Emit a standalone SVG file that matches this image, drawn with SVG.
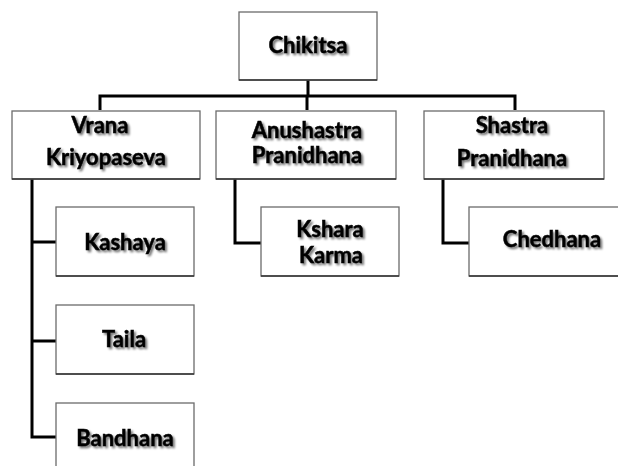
<svg xmlns="http://www.w3.org/2000/svg" width="618" height="466" viewBox="0 0 618 466">
<defs>
<filter id="sh" x="-20%" y="-40%" width="140%" height="180%">
<feGaussianBlur in="SourceAlpha" stdDeviation="1.3"/>
<feOffset dx="1.5" dy="2" result="b"/>
<feComponentTransfer><feFuncA type="linear" slope="0.55"/></feComponentTransfer>
<feMerge><feMergeNode/><feMergeNode in="SourceGraphic"/></feMerge>
</filter>
</defs>
<style>
.box{fill:#ffffff;stroke:#6b6b6b;stroke-width:1.3}
.bs{stroke:#333;stroke-width:1.6}
.t{font-family:Lato,"Liberation Sans",sans-serif;font-weight:bold;font-size:22px;fill:#000;stroke:#000;stroke-width:0.5;text-anchor:middle;filter:url(#sh)}
.c{fill:none;stroke:#000;stroke-width:3}
</style>
<rect width="618" height="466" fill="#fff"/>
<g id="connectors">
<path class="c" d="M308 80V96M100 110V96H515V110M307 96V110"/>
<path class="c" d="M32 179V437H56M32 242H56M32 341H56"/>
<path class="c" d="M235 179V243H261"/>
<path class="c" d="M443 179V243H469"/>
</g>
<g id="chikitsa"><rect class="box" x="239" y="12" width="138" height="68"/><line class="bs" x1="239" y1="80" x2="377" y2="80"/><text class="t" x="308" y="53">Chikitsa</text></g>
<g id="vrana"><rect class="box" x="12" y="111" width="188" height="68"/><line class="bs" x1="12" y1="179" x2="200" y2="179"/><text class="t" x="100" y="133">Vrana</text><text class="t" x="106" y="165">Kriyopaseva</text></g>
<g id="anushastra"><rect class="box" x="216" y="111" width="180" height="68"/><line class="bs" x1="216" y1="179" x2="396" y2="179"/><text class="t" x="307" y="138">Anushastra</text><text class="t" x="307" y="163">Pranidhana</text></g>
<g id="shastra"><rect class="box" x="424" y="111" width="180" height="68"/><line class="bs" x1="424" y1="179" x2="604" y2="179"/><text class="t" x="512" y="133">Shastra</text><text class="t" x="512" y="166">Pranidhana</text></g>
<g id="kashaya"><rect class="box" x="56" y="207" width="138" height="69"/><line class="bs" x1="56" y1="276" x2="194" y2="276"/><text class="t" x="125" y="250">Kashaya</text></g>
<g id="taila"><rect class="box" x="56" y="305" width="138" height="69"/><line class="bs" x1="56" y1="374" x2="194" y2="374"/><text class="t" x="124" y="347">Taila</text></g>
<g id="bandhana"><rect class="box" x="56" y="403" width="138" height="69"/><text class="t" x="125" y="446">Bandhana</text></g>
<g id="kshara"><rect class="box" x="261" y="207" width="138" height="69"/><line class="bs" x1="261" y1="276" x2="399" y2="276"/><text class="t" x="330" y="237">Kshara</text><text class="t" x="331" y="263">Karma</text></g>
<g id="chedhana"><rect class="box" x="469" y="207" width="160" height="69"/><line class="bs" x1="469" y1="276" x2="618" y2="276"/><text class="t" x="552" y="247">Chedhana</text></g>
</svg>
